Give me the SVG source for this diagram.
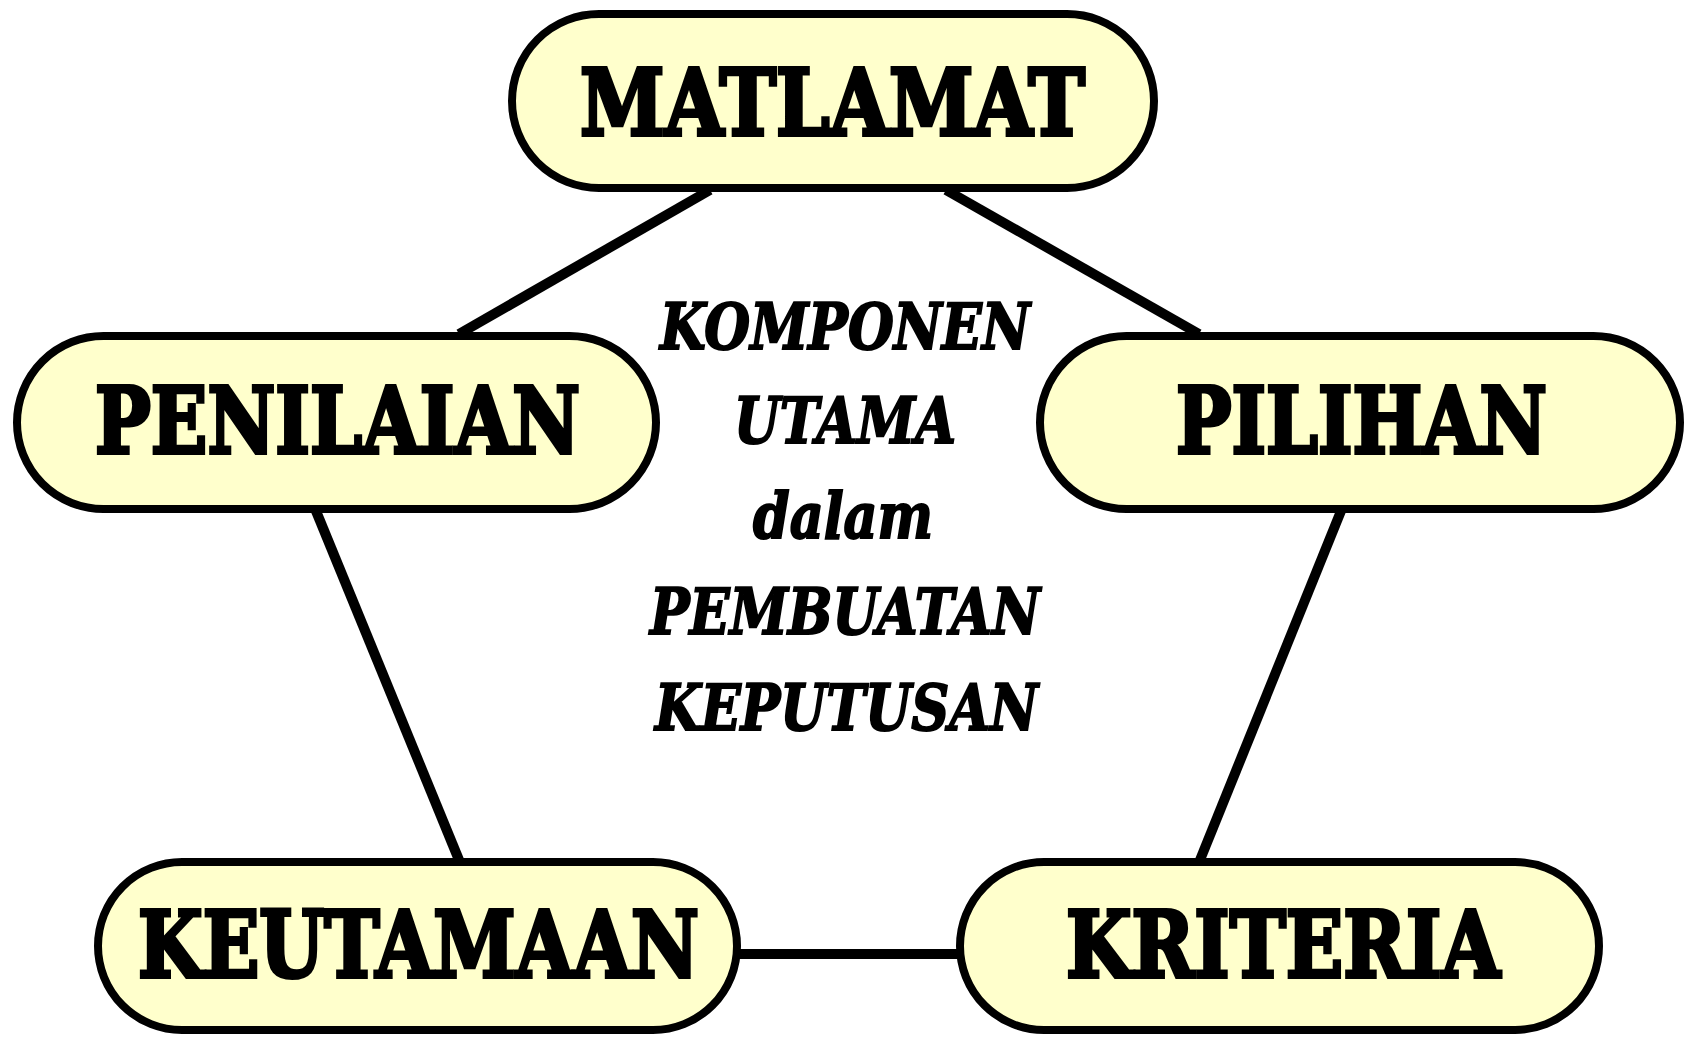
<svg xmlns="http://www.w3.org/2000/svg" width="1692" height="1037" viewBox="0 0 1692 1037">
<style>
.box{fill:#FFFFCC;stroke:#000;stroke-width:8}
.lbl{font-family:"DejaVu Serif","Liberation Serif",serif;font-weight:bold;font-size:92px;fill:#000;stroke:#000;stroke-width:4;stroke-linejoin:miter}
.mid{font-family:"DejaVu Serif","Liberation Serif",serif;font-weight:bold;font-style:italic;font-size:63px;fill:#000;stroke:#000;stroke-width:2}
.conn line{stroke:#000;stroke-width:10}
</style>
<rect width="1692" height="1037" fill="#fff"/>
<g id="connectors" class="conn">
<line x1="710" y1="190" x2="459" y2="334"/>
<line x1="946" y1="190" x2="1199" y2="334"/>
<line x1="316" y1="511" x2="459" y2="860"/>
<line x1="1341" y1="511" x2="1200" y2="860"/>
<line x1="738" y1="954" x2="959" y2="954"/>
</g>
<g id="matlamat">
<rect class="box" x="512" y="14" width="642" height="174" rx="87"/>
<text class="lbl" x="580" y="135" textLength="505" lengthAdjust="spacingAndGlyphs">MATLAMAT</text>
</g>
<g id="penilaian">
<rect class="box" x="17" y="336" width="639" height="173" rx="86.5"/>
<text class="lbl" x="95" y="453" textLength="485" lengthAdjust="spacingAndGlyphs">PENILAIAN</text>
</g>
<g id="pilihan">
<rect class="box" x="1040" y="336" width="640" height="173" rx="86.5"/>
<text class="lbl" x="1176" y="453" textLength="371" lengthAdjust="spacingAndGlyphs">PILIHAN</text>
</g>
<g id="keutamaan">
<rect class="box" x="98" y="862" width="639" height="168" rx="84"/>
<text class="lbl" x="138" y="977" textLength="561" lengthAdjust="spacingAndGlyphs">KEUTAMAAN</text>
</g>
<g id="kriteria">
<rect class="box" x="960" y="862" width="639" height="168" rx="84"/>
<text class="lbl" x="1066" y="977" textLength="434" lengthAdjust="spacingAndGlyphs">KRITERIA</text>
</g>
<g id="center-title">
<text class="mid" x="660" y="349" textLength="370" lengthAdjust="spacingAndGlyphs">KOMPONEN</text>
<text class="mid" x="734" y="443" textLength="222" lengthAdjust="spacingAndGlyphs">UTAMA</text>
<text class="mid" x="753" y="538" textLength="180" lengthAdjust="spacingAndGlyphs">dalam</text>
<text class="mid" x="650" y="634" textLength="390" lengthAdjust="spacingAndGlyphs">PEMBUATAN</text>
<text class="mid" x="655" y="730" textLength="383" lengthAdjust="spacingAndGlyphs">KEPUTUSAN</text>
</g>
</svg>
